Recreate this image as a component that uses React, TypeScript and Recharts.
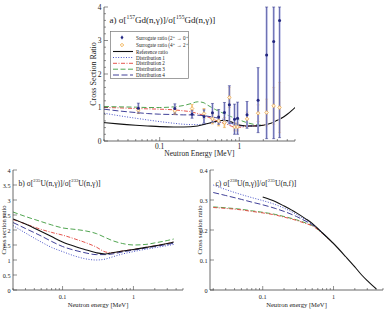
import React from 'react';
import { ComposedChart, Line, Scatter, ErrorBar, XAxis, YAxis, Legend, Label } from 'recharts';

const SERIF = '"Liberation Serif", "DejaVu Serif", serif';
const FRAME = '#444';
const INK = '#222';

// Log-axis tick positions (2..9 within each decade)
const energyTicks = [0.02, 0.03, 0.04, 0.05, 0.06, 0.07, 0.08, 0.09, 0.1, 0.2, 0.3, 0.4, 0.5, 0.6, 0.7, 0.8, 0.9, 1, 2, 3, 4, 5];

// ---- Panel a: 157Gd / 155Gd ----
const gdRefEnergy = [0.02, 0.03, 0.05, 0.07, 0.1, 0.15, 0.2, 0.3, 0.4, 0.5, 0.6, 0.7, 0.8, 1, 1.3, 1.7, 2, 2.5, 3, 3.5, 4, 4.5, 5];
const gdReference = [0.55, 0.51, 0.47, 0.45, 0.43, 0.42, 0.42, 0.45, 0.52, 0.58, 0.61, 0.61, 0.57, 0.48, 0.45, 0.45, 0.47, 0.53, 0.62, 0.7, 0.8, 0.9, 1.0];
const gdDistEnergy = [0.02, 0.03, 0.05, 0.07, 0.1, 0.15, 0.2, 0.25, 0.3, 0.35, 0.4, 0.5, 0.6, 0.7, 0.8, 0.9, 1, 1.2, 1.5, 2];
const gdDist1 = [0.83, 0.76, 0.68, 0.63, 0.58, 0.53, 0.5, 0.49, 0.49, 0.5, 0.52, 0.55, 0.56, 0.56, 0.52, 0.48, 0.46, 0.45, 0.45, 0.47];
const gdDist2 = [1.0, 0.99, 0.97, 0.96, 0.95, 0.93, 0.9, 0.87, 0.82, 0.77, 0.72, 0.62, 0.55, 0.5, 0.44, 0.41, 0.41, 0.43, 0.45, 0.47];
const gdDist3 = [1.03, 1.02, 1.01, 1.0, 1.0, 1.02, 1.06, 1.12, 1.17, 1.15, 1.07, 0.94, 0.85, 0.78, 0.72, 0.67, 0.63, 0.56, 0.5, 0.47];
const gdDist4 = [0.95, 0.9, 0.85, 0.82, 0.8, 0.79, 0.78, 0.78, 0.77, 0.76, 0.74, 0.7, 0.66, 0.6, 0.53, 0.48, 0.46, 0.45, 0.45, 0.47];
const gdSurrEnergy = [0.054, 0.155, 0.255, 0.36, 0.46, 0.55, 0.65, 0.75, 0.87, 0.95, 1.25, 1.72, 2.2, 2.7, 3.2];
const gdSurr20 = [0.98, 0.97, 0.8, 0.73, 0.84, 0.72, 0.85, 1.08, 0.65, 0.68, 0.78, 1.22, 2.57, 2.97, 3.6];
const gdSurr20Err = [0.15, 0.14, 0.12, 0.2, 0.28, 0.22, 0.3, 0.57, 0.45, 0.48, 0.4, 0.97, 2.5, 2.9, 3.5];
const gdSurr42 = [0.92, 0.9, 0.97, 0.82, 0.66, 0.6, 0.55, 1.3, 0.42, 0.42, 0.66, 0.83, 0.85, 1.05, 1.0];
const gdSurr42Err = [0.1, 0.1, 0.12, 0.15, 0.15, 0.15, 0.15, 0.3, 0.12, 0.12, 0.2, 0.25, 0.4, 0.55, 0.75];
const gdYDomain: [number, number] = [0, 4];
const gdYTicks = [0, 0.2, 0.4, 0.6, 0.8, 1, 1.2, 1.4, 1.6, 1.8, 2, 2.2, 2.4, 2.6, 2.8, 3, 3.2, 3.4, 3.6, 3.8, 4];

// ---- Panel b: 235U / 233U capture ----
const uEnergyB = [0.02, 0.03, 0.05, 0.07, 0.1, 0.15, 0.2, 0.3, 0.4, 0.5, 0.7, 1, 1.5, 2, 3, 3.7];
const uRefB = [2.37, 2.2, 1.95, 1.78, 1.6, 1.45, 1.36, 1.24, 1.2, 1.24, 1.3, 1.35, 1.42, 1.47, 1.55, 1.6];
const uDist1B = [2.15, 1.9, 1.6, 1.42, 1.28, 1.13, 1.05, 1.0, 1.03, 1.1, 1.2, 1.28, 1.36, 1.41, 1.48, 1.52];
const uDist2B = [2.35, 2.2, 2.02, 1.92, 1.83, 1.7, 1.6, 1.43, 1.27, 1.24, 1.3, 1.35, 1.42, 1.47, 1.55, 1.6];
const uDist3B = [2.6, 2.45, 2.28, 2.17, 2.07, 2.02, 1.98, 1.88, 1.75, 1.65, 1.55, 1.5, 1.52, 1.57, 1.65, 1.7];
const uDist4B = [2.25, 2.05, 1.8, 1.62, 1.45, 1.32, 1.25, 1.18, 1.18, 1.2, 1.27, 1.33, 1.4, 1.45, 1.52, 1.56];
const uYTicksB = [0, 0.5, 1, 1.5, 2, 2.5, 3, 3.5, 4];

// ---- Panel c: 238U capture / 235U fission ----
const uRefEnergyC = [0.1, 0.15, 0.2, 0.3, 0.4, 0.5, 0.7, 1, 1.5, 2, 2.5, 3, 3.5, 4];
const uRefC = [0.31, 0.295, 0.28, 0.257, 0.238, 0.222, 0.19, 0.155, 0.11, 0.077, 0.05, 0.031, 0.016, 0.004];
const uDistEnergyC = [0.02, 0.03, 0.05, 0.07, 0.1, 0.15, 0.2, 0.3, 0.4, 0.5, 0.7, 1];
const uDist1C = [0.35, 0.335, 0.318, 0.308, 0.298, 0.285, 0.273, 0.252, 0.234, 0.22, 0.19, 0.155];
const uDist2C = [0.275, 0.272, 0.267, 0.262, 0.257, 0.25, 0.243, 0.232, 0.222, 0.214, 0.188, 0.155];
const uDist3C = [0.277, 0.274, 0.269, 0.264, 0.259, 0.252, 0.245, 0.234, 0.224, 0.215, 0.189, 0.155];
const uDist4C = [0.325, 0.315, 0.302, 0.293, 0.284, 0.272, 0.262, 0.245, 0.23, 0.218, 0.19, 0.155];
const uYTicksC = [0, 0.1, 0.2, 0.3, 0.4];

const STYLE = {
  reference: { stroke: '#111111', dash: undefined as string | undefined, width: 1.1 },
  dist1: { stroke: '#4b56c9', dash: '1 1.6', width: 1 },
  dist2: { stroke: '#e2423a', dash: '4 1.5 1 1.5', width: 0.9 },
  dist3: { stroke: '#3d9b3d', dash: '5 2.5', width: 0.9 },
  dist4: { stroke: '#2b2b8c', dash: '6 2.5', width: 0.9 },
};
const NAVY = '#22267f';
const NAVY_HALO = '#aeb1e0';
const ORANGE = '#eda23a';
const ORANGE_HALO = '#f9dcae';

const pts = (xs: number[], ys: number[]) => xs.map((x, i) => ({ x, y: ys[i] }));
// error bars are cut at the edges of the plotted range
const ptsErr = (xs: number[], ys: number[], es: number[], dom: [number, number]) =>
  xs.map((x, i) => ({ x, y: ys[i], err: [Math.min(es[i], ys[i] - dom[0]), Math.min(es[i], dom[1] - ys[i])] }));

const isDecade = (v: number) => Math.abs(Math.log10(v) - Math.round(Math.log10(v))) < 1e-6;
const isStep = (v: number, step: number) => Math.abs(v / step - Math.round(v / step)) < 1e-6;
const fmt = (v: number) => String(Math.round(v * 100) / 100);

// Inward-pointing ticks; labels only on the major ones
function makeXTick(dir: number, fs = 0, dy = 0) {
  return (p: any) => {
    const v = p.payload.value;
    const major = isDecade(v);
    return (
      <g>
        <line x1={p.x} x2={p.x} y1={p.y} y2={p.y + dir * (major ? 4 : 2)} stroke={FRAME} strokeWidth={0.6} />
        {fs > 0 && major && (
          <text x={p.x} y={p.y + dy} textAnchor="middle" dominantBaseline="central" fontSize={fs} fontFamily={SERIF} fill={INK}>
            {fmt(v)}
          </text>
        )}
      </g>
    );
  };
}

function makeYTick(dir: number, step: number, fs = 0, dx = 0) {
  return (p: any) => {
    const v = p.payload.value;
    const major = isStep(v, step);
    return (
      <g>
        <line x1={p.x} x2={p.x + dir * (major ? 4 : 2)} y1={p.y} y2={p.y} stroke={FRAME} strokeWidth={0.6} />
        {fs > 0 && major && (
          <text x={p.x + dx} y={p.y} textAnchor="end" dominantBaseline="central" fontSize={fs} fontFamily={SERIF} fill={INK}>
            {fmt(v)}
          </text>
        )}
      </g>
    );
  };
}

// Text with superscript runs: [text, isSuperscript]
function RichText({ x, y, fs, parts }: { x: number; y: number; fs: number; parts: [string, boolean][] }) {
  const lift = fs * 0.38;
  let up = false;
  return (
    <text x={x} y={y} fontSize={fs} fontFamily={SERIF} fill={INK} dominantBaseline="central">
      {parts.map(([t, sup], i) => {
        let dy = 0;
        if (sup && !up) { dy = -lift; up = true; }
        else if (!sup && up) { dy = lift; up = false; }
        return (
          <tspan key={i} dy={dy} fontSize={sup ? fs * 0.62 : fs}>
            {t}
          </tspan>
        );
      })}
    </text>
  );
}

const titleA: [string, boolean][] = [['a) σ[', false], ['157', true], ['Gd(n,γ)]/σ[', false], ['155', true], ['Gd(n,γ)]', false]];
const titleB: [string, boolean][] = [['b) σ[', false], ['235', true], ['U(n,γ)]/σ[', false], ['233', true], ['U(n,γ)]', false]];
const titleC: [string, boolean][] = [['c) σ[', false], ['238', true], ['U(n,γ)]/σ[', false], ['235', true], ['U(n,f)]', false]];

const legendRows = [
  { key: 'sur20', label: 'Surrogate ratio (2⁺ → 0⁺)' },
  { key: 'sur42', label: 'Surrogate ratio (4⁺ → 2⁺)' },
  { key: 'reference', label: 'Reference ratio' },
  { key: 'dist1', label: 'Distribution 1' },
  { key: 'dist2', label: 'Distribution 2' },
  { key: 'dist3', label: 'Distribution 3' },
  { key: 'dist4', label: 'Distribution 4' },
];
const legendRowY = [6.5, 14, 20.5, 26.5, 32.3, 38.2, 44];

function LegendBox() {
  return (
    <svg width={79} height={48} style={{ display: 'block' }}>
      <rect x={0.5} y={0.5} width={78} height={47} fill="#fff" stroke="#777" strokeWidth={0.7} />
      {legendRows.map((r, i) => {
        const y = legendRowY[i];
        let mark: React.ReactNode;
        if (r.key === 'sur20') {
          mark = (
            <g>
              <line x1={12} x2={12} y1={y - 2} y2={y + 2} stroke={NAVY_HALO} strokeWidth={1.5} />
              <circle cx={12} cy={y} r={1.3} fill={NAVY} />
            </g>
          );
        } else if (r.key === 'sur42') {
          mark = <polygon points={`12,${y - 1.8} 13.8,${y} 12,${y + 1.8} 10.2,${y}`} fill="#fff3dd" stroke={ORANGE} strokeWidth={0.7} />;
        } else {
          const s = (STYLE as any)[r.key];
          mark = <line x1={3} x2={23} y1={y} y2={y} stroke={s.stroke} strokeWidth={s.width} strokeDasharray={s.dash} />;
        }
        return (
          <g key={r.key}>
            {mark}
            <text x={26} y={y} fontSize={5.2} fontFamily={SERIF} fill={INK} dominantBaseline="central">
              {r.label}
            </text>
          </g>
        );
      })}
    </svg>
  );
}

function curve(data: { x: number; y: number }[], key: keyof typeof STYLE, name: string) {
  const s = STYLE[key];
  return (
    <Line
      key={name}
      name={name}
      data={data}
      dataKey="y"
      type="monotone"
      dot={false}
      activeDot={false}
      stroke={s.stroke}
      strokeWidth={s.width}
      strokeDasharray={s.dash}
      isAnimationActive={false}
    />
  );
}

const axisLine = { stroke: FRAME, strokeWidth: 0.8 };

// Rotated axis title plus the panel title drawn at the top-left of the plot
function yTitleAndCaption(title: string, fs: number, xOff: number, caption: [string, boolean][], capFs: number) {
  return (p: any) => {
    const vb = p.viewBox;
    const cx = vb.x + xOff;
    const cy = vb.y + vb.height / 2;
    return (
      <g>
        <text x={cx} y={cy} transform={`rotate(-90 ${cx} ${cy})`} textAnchor="middle" dominantBaseline="central" fontSize={fs} fontFamily={SERIF} fill={INK}>
          {title}
        </text>
        <RichText x={vb.x + vb.width + 5.5} y={vb.y + 13} fs={capFs} parts={caption} />
      </g>
    );
  };
}

function PanelA() {
  return (
    <ComposedChart width={386} height={160} margin={{ top: 7, right: 91, bottom: 0, left: 0 }}>
      <XAxis dataKey="x" type="number" scale="log" domain={[0.02, 5]} allowDataOverflow ticks={energyTicks} interval={0}
        height={19} tickSize={0} tickMargin={0} tick={makeXTick(-1, 7.5, 5.5)} axisLine={axisLine}>
        <Label content={(p: any) => (
          <text x={p.viewBox.x + p.viewBox.width / 2} y={p.viewBox.y + 12.5} textAnchor="middle" dominantBaseline="central" fontSize={7.5} fontFamily={SERIF} fill={INK}>
            Neutron Energy [MeV]
          </text>
        )} />
      </XAxis>
      <XAxis xAxisId="top" orientation="top" dataKey="x" type="number" scale="log" domain={[0.02, 5]} allowDataOverflow ticks={energyTicks}
        interval={0} height={0} tickSize={0} tickMargin={0} tick={makeXTick(1)} axisLine={axisLine} />
      <YAxis type="number" domain={gdYDomain} allowDataOverflow ticks={gdYTicks} interval={0} width={104} tickSize={0} tickMargin={0}
        tick={makeYTick(1, 1, 7.5, -2.5)} axisLine={axisLine}>
        <Label content={yTitleAndCaption('Cross Section Ratio', 8, 93, titleA, 9)} />
      </YAxis>
      <YAxis yAxisId="right" orientation="right" type="number" domain={gdYDomain} allowDataOverflow ticks={gdYTicks} interval={0} width={0}
        tickSize={0} tickMargin={0} tick={makeYTick(-1, 1)} axisLine={axisLine} />
      {curve(pts(gdDistEnergy, gdDist1), 'dist1', 'Distribution 1')}
      {curve(pts(gdDistEnergy, gdDist2), 'dist2', 'Distribution 2')}
      {curve(pts(gdDistEnergy, gdDist3), 'dist3', 'Distribution 3')}
      {curve(pts(gdDistEnergy, gdDist4), 'dist4', 'Distribution 4')}
      {curve(pts(gdRefEnergy, gdReference), 'reference', 'Reference ratio')}
      <Scatter name="Surrogate ratio (4+ → 2+)" data={ptsErr(gdSurrEnergy, gdSurr42, gdSurr42Err, gdYDomain)} dataKey="y" isAnimationActive={false}
        shape={(p: any) => (
          <polygon points={`${p.cx},${p.cy - 1.8} ${p.cx + 1.8},${p.cy} ${p.cx},${p.cy + 1.8} ${p.cx - 1.8},${p.cy}`} fill="#fff3dd" stroke={ORANGE} strokeWidth={0.7} />
        )}>
        <ErrorBar dataKey="err" direction="y" width={0} stroke={ORANGE_HALO} strokeWidth={2} isAnimationActive={false} />
        <ErrorBar dataKey="err" direction="y" width={1.5} stroke={ORANGE} strokeWidth={0.5} isAnimationActive={false} />
      </Scatter>
      <Scatter name="Surrogate ratio (2+ → 0+)" data={ptsErr(gdSurrEnergy, gdSurr20, gdSurr20Err, gdYDomain)} dataKey="y" isAnimationActive={false}
        shape={(p: any) => <circle cx={p.cx} cy={p.cy} r={1.5} fill={NAVY} />}>
        <ErrorBar dataKey="err" direction="y" width={0} stroke={NAVY_HALO} strokeWidth={2} isAnimationActive={false} />
        <ErrorBar dataKey="err" direction="y" width={1.5} stroke={NAVY} strokeWidth={0.5} isAnimationActive={false} />
      </Scatter>
      <Legend layout="vertical" align="center" verticalAlign="middle" content={() => <LegendBox />}
        wrapperStyle={{ position: 'absolute', left: 110, top: 31, width: 79, height: 48 }} />
    </ComposedChart>
  );
}

function UPanel(props: {
  width: number; margin: any; yWidth: number; xDomain: [number, number]; yDomain: [number, number]; yTicks: number[];
  yStep: number; title: [string, boolean][]; yTitleX: number; children: React.ReactNode;
}) {
  return (
    <ComposedChart width={props.width} height={160} margin={props.margin}>
      <XAxis dataKey="x" type="number" scale="log" domain={props.xDomain} allowDataOverflow ticks={energyTicks} interval={0}
        height={20} tickSize={0} tickMargin={0} tick={makeXTick(-1, 6.2, 6)} axisLine={axisLine}>
        <Label content={(p: any) => (
          <text x={p.viewBox.x + p.viewBox.width / 2} y={p.viewBox.y + 14.5} textAnchor="middle" dominantBaseline="central" fontSize={6.6} fontFamily={SERIF} fill={INK}>
            Neutron energy [MeV]
          </text>
        )} />
      </XAxis>
      <XAxis xAxisId="top" orientation="top" dataKey="x" type="number" scale="log" domain={props.xDomain} allowDataOverflow ticks={energyTicks}
        interval={0} height={0} tickSize={0} tickMargin={0} tick={makeXTick(1)} axisLine={axisLine} />
      <YAxis type="number" domain={props.yDomain} allowDataOverflow ticks={props.yTicks} interval={0} width={props.yWidth} tickSize={0}
        tickMargin={0} tick={makeYTick(1, props.yStep, 6.2, -2.5)} axisLine={axisLine}>
        <Label content={yTitleAndCaption('Cross section ratio', 6.6, props.yTitleX, props.title, 7.6)} />
      </YAxis>
      <YAxis yAxisId="right" orientation="right" type="number" domain={props.yDomain} allowDataOverflow ticks={props.yTicks} interval={0}
        width={0} tickSize={0} tickMargin={0} tick={makeYTick(-1, props.yStep)} axisLine={axisLine} />
      {props.children}
    </ComposedChart>
  );
}

export default function App() {
  return (
    <div style={{ position: 'absolute', left: 0, top: 0, width: 386, height: 310, background: '#fff', overflow: 'hidden' }}>
      <div style={{ position: 'absolute', left: 0, top: 0 }}>
        <PanelA />
      </div>
      <div style={{ position: 'absolute', left: 0, top: 150 }}>
        <UPanel width={200} margin={{ top: 20, right: 17, bottom: 0, left: 0 }} yWidth={13} xDomain={[0.02, 5]} yDomain={[0, 4]}
          yTicks={uYTicksB} yStep={0.5} title={titleB} yTitleX={3}>
          {curve(pts(uEnergyB, uDist3B), 'dist3', 'Distribution 3')}
          {curve(pts(uEnergyB, uDist2B), 'dist2', 'Distribution 2')}
          {curve(pts(uEnergyB, uDist4B), 'dist4', 'Distribution 4')}
          {curve(pts(uEnergyB, uDist1B), 'dist1', 'Distribution 1')}
          {curve(pts(uEnergyB, uRefB), 'reference', 'Reference ratio')}
        </UPanel>
      </div>
      <div style={{ position: 'absolute', left: 190, top: 150 }}>
        <UPanel width={196} margin={{ top: 20, right: 3, bottom: 0, left: 0 }} yWidth={20} xDomain={[0.018, 5]} yDomain={[0, 0.4]}
          yTicks={uYTicksC} yStep={0.1} title={titleC} yTitleX={9}>
          {curve(pts(uDistEnergyC, uDist3C), 'dist3', 'Distribution 3')}
          {curve(pts(uDistEnergyC, uDist2C), 'dist2', 'Distribution 2')}
          {curve(pts(uDistEnergyC, uDist4C), 'dist4', 'Distribution 4')}
          {curve(pts(uDistEnergyC, uDist1C), 'dist1', 'Distribution 1')}
          {curve(pts(uRefEnergyC, uRefC), 'reference', 'Reference ratio')}
        </UPanel>
      </div>
    </div>
  );
}
